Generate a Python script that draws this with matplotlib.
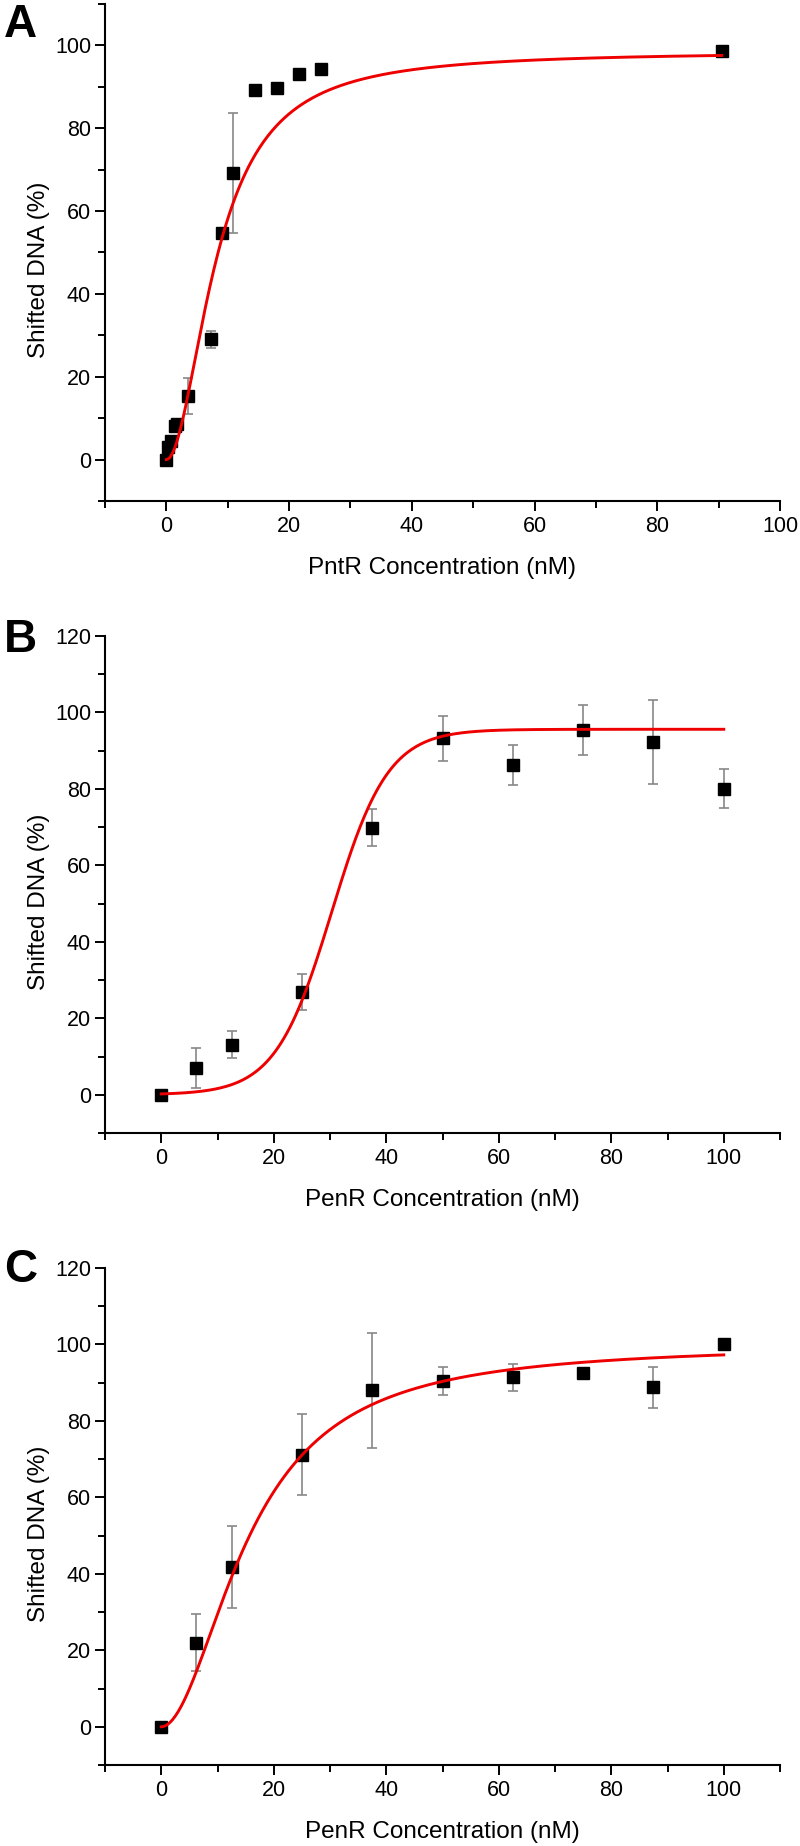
import matplotlib
matplotlib.use("Agg")
import matplotlib.pyplot as plt
import numpy as np
from matplotlib.ticker import MultipleLocator

plt.rcParams["font.family"] = ["Liberation Sans", "DejaVu Sans"]

# Panel A: PntR
a_x = [0, 0.2, 0.7, 1.4, 1.8, 3.6, 7.2, 9.0, 10.8, 14.4, 18.0, 21.6, 25.2, 90.5]
a_y = [0, 3.0, 4.5, 8.0, 8.6, 15.3, 29.0, 54.6, 69.2, 89.2, 89.8, 93.2, 94.3, 98.6]
a_err = [0, 0, 0, 0, 0, 4.4, 2.0, 0, 14.5, 0, 0, 0, 1.0, 0.8]
a_fit = [98.5, 8.3, 1.95]  # Hill: vmax, K, n

# Panel B: PenR
b_x = [0, 6.25, 12.5, 25, 37.5, 50, 62.5, 75, 87.5, 100]
b_y = [0, 7.0, 13.1, 27.0, 69.9, 93.3, 86.2, 95.5, 92.3, 80.1]
b_err = [0, 5.3, 3.5, 4.7, 4.8, 5.9, 5.2, 6.5, 11.0, 5.1]
b_fit = [0.0, 95.6, 30.3, 5.0]  # Boltzmann: A1, A2, x0, dx

# Panel C: PenR
c_x = [0, 6.25, 12.5, 25, 37.5, 50, 62.5, 75, 87.5, 100]
c_y = [0, 22.0, 41.8, 71.2, 88.0, 90.4, 91.4, 92.5, 88.8, 100.0]
c_err = [0, 7.5, 10.8, 10.6, 15.1, 3.6, 3.5, 0.4, 5.4, 0]
c_fit = [100.0, 15.7, 1.93]  # Hill: vmax, K, n


def hill(x, p):
    vmax, k, n = p
    return vmax * x ** n / (k ** n + x ** n)


def boltzmann(x, p):
    a1, a2, x0, dx = p
    return a2 + (a1 - a2) / (1 + np.exp((x - x0) / dx))


def draw_panel(ax, x, y, err, curve, xlabel, xmax, ymax):
    ax.errorbar(x, y, yerr=err, fmt="none", ecolor="#888888", elinewidth=1.2,
                capsize=3.3, capthick=1.2, zorder=2)
    ax.plot(x, y, "s", color="black", markersize=8, zorder=3)
    xs = np.linspace(0, max(x), 400)
    ax.plot(xs, curve(xs), color="#ee0000", lw=2.1, zorder=4)

    ax.set_xlim(-10, xmax)
    ax.set_ylim(-10, ymax)
    ax.xaxis.set_minor_locator(MultipleLocator(10))
    ax.yaxis.set_minor_locator(MultipleLocator(10))
    ax.set_xticks(np.arange(0, 101, 20))
    ax.set_yticks(np.arange(0, ymax + 1 if ymax == 120 else 101, 20))

    for side in ["top", "right"]:
        ax.spines[side].set_visible(False)
    for side in ["left", "bottom"]:
        ax.spines[side].set_linewidth(1.5)
    ax.tick_params(which="major", direction="out", length=7, width=1.4,
                   labelsize=15.5, pad=3)
    ax.tick_params(which="minor", direction="out", length=4.8, width=1.4)
    ax.tick_params(axis="x", which="major", pad=4)

    ax.set_xlabel(xlabel, fontsize=17.5)
    ax.set_ylabel("Shifted DNA (%)", fontsize=17.5)
    ax.xaxis.set_label_coords(0.5, -0.112)
    ax.yaxis.set_label_coords(-0.082, 0.465)


fig = plt.figure(figsize=(8, 18.46), dpi=100)
H = 1846.0
left, width, height = 105 / 800, 675 / 800, 497 / H

ax_a = fig.add_axes([left, 1 - 501 / H, width, height])
ax_b = fig.add_axes([left, 1 - 1133 / H, width, height])
ax_c = fig.add_axes([left, 1 - 1765 / H, width, height])

draw_panel(ax_a, a_x, a_y, a_err, lambda v: hill(v, a_fit),
           "PntR Concentration (nM)", 100, 110)
draw_panel(ax_b, b_x, b_y, b_err, lambda v: boltzmann(v, b_fit),
           "PenR Concentration (nM)", 110, 120)
draw_panel(ax_c, c_x, c_y, c_err, lambda v: hill(v, c_fit),
           "PenR Concentration (nM)", 110, 120)

for letter, base in [("A", 37), ("B", 652), ("C", 1282)]:
    fig.text(4 / 800, 1 - base / H, letter, fontsize=33, fontweight="bold",
             va="baseline", ha="left")

fig.savefig("out.png", dpi=100)
